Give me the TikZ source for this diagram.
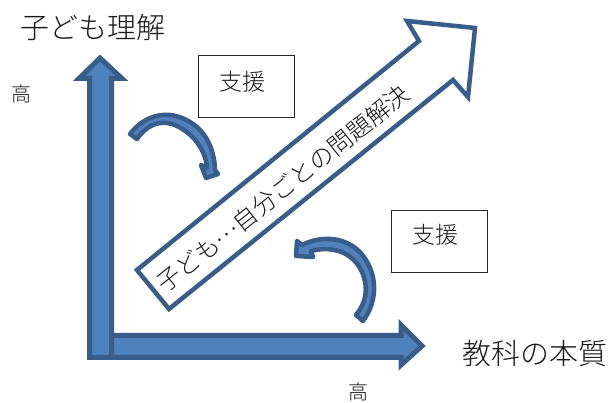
\documentclass[tikz,border=0pt]{standalone}
\usepackage{fontspec}
\setmainfont{Noto Sans CJK JP}[UprightFont=* Light]
\tikzset{
  bluearrow/.style={draw=arrowline,fill=arrowfill,line width=5pt,line join=miter,miter limit=10},
  curvearrow/.style={draw=arrowline,fill=arrowfill,line width=4.5pt,line join=round},
  hollowarrow/.style={draw=arrowline,fill=white,line width=4.5pt,line join=miter,miter limit=10},
  labelbox/.style={draw=black!85,line width=0.9pt,fill=white,minimum width=96pt,minimum height=62pt,inner sep=0pt},
  plaintext/.style={inner sep=0pt,text=black!90}
}
\definecolor{arrowline}{HTML}{385D8A}
\definecolor{arrowfill}{HTML}{4F81BD}
\begin{document}
\begin{tikzpicture}[x=1pt,y=-1pt]
\useasboundingbox (0,0) rectangle (608,403);
% axes
\path[bluearrow] (89.5,335.5) -- (401,335.5) -- (401,325) -- (422,346) -- (401,365) -- (401,357.5) -- (89.5,357.5) -- cycle;
\path[bluearrow] (89.5,357.5) -- (89.5,78.5) -- (79,78.5) -- (100,58) -- (122,78.5) -- (111.5,78.5) -- (111.5,357.5) -- cycle;
% diagonal arrow
\path[hollowarrow] (137,270) -- (419,41) -- (407,21) -- (475,28) -- (468,97) -- (453,80) -- (169,309) -- cycle;
\node[plaintext,rotate=38.6,font=\fontsize{24.2pt}{26pt}\selectfont] (diag) at (283,188.5) {子ども\raisebox{0.3em}{…}自分ごとの問題解決};
% boxes
\node[labelbox] (boxa) at (246.5,86.5) {};
\node[plaintext,font=\fontsize{23pt}{26pt}\selectfont] (boxatext) at (242.5,82) {支援};
\node[labelbox] (boxb) at (439,241) {};
\node[plaintext,font=\fontsize{23pt}{26pt}\selectfont] (boxbtext) at (435,235) {支援};
% curved arrows
\path[curvearrow] (130,134) .. controls (142,118) and (160,112) .. (176,116)
  .. controls (198,122) and (214,140) .. (215,170)
  -- (218,174) -- (206,178) -- (201,165) -- (207,168)
  .. controls (206,150) and (192,131) .. (172,124)
  .. controls (158,120) and (146,126) .. (137,139) -- cycle;
\path[curvearrow] (356,315) .. controls (366,303) and (369,288) .. (362,272)
  .. controls (354,254) and (335,245) .. (311,251)
  -- (313,257) -- (296,256) -- (297,241) -- (302,245)
  .. controls (318,237) and (338,236) .. (354,247)
  .. controls (372,260) and (384,292) .. (363,321) -- cycle;
% labels
\node[plaintext,font=\fontsize{29pt}{32pt}\selectfont] (title) at (92.5,27) {子ども理解};
\node[plaintext,font=\fontsize{29pt}{32pt}\selectfont] (subject) at (535,354) {教科の本質};
\node[plaintext,font=\fontsize{20pt}{22pt}\selectfont] (higha) at (22,94) {高};
\node[plaintext,font=\fontsize{20pt}{22pt}\selectfont] (highb) at (358,392) {高};
\end{tikzpicture}
\end{document}
